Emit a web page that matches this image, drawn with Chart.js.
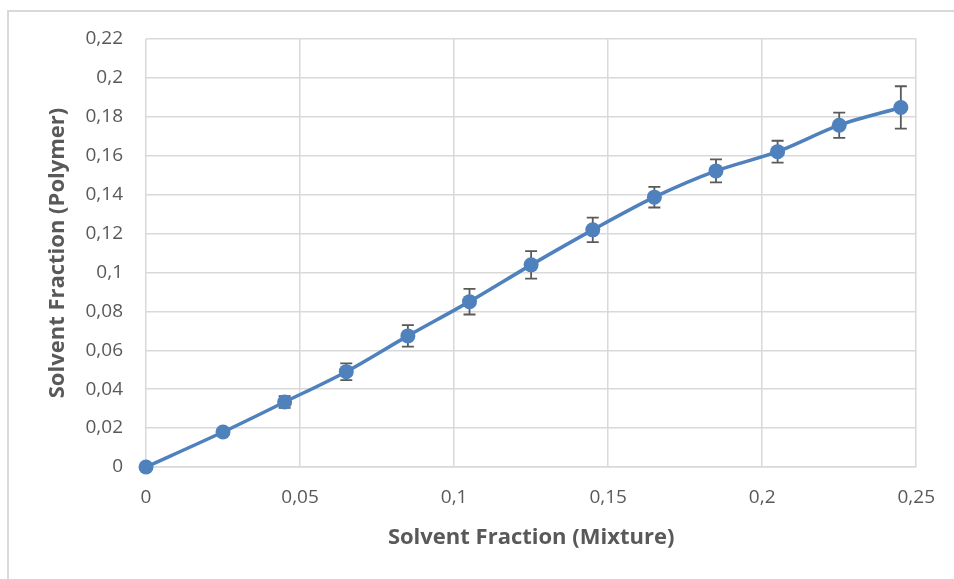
<!DOCTYPE html>
<html>
<head>
<meta charset="utf-8">
<script src="https://cdn.jsdelivr.net/npm/chart.js@4/dist/chart.umd.min.js"></script>
<style>
  html, body { margin: 0; padding: 0; background: #fff; }
  #wrap { position: relative; width: 954px; height: 579px; }
  #frame { position: absolute; left: 7px; top: 10px; right: 0; bottom: 0;
           border-left: 2px solid #d9d9d9; border-top: 2px solid #d9d9d9; pointer-events: none; }
</style>
</head>
<body>
<div id="wrap">
  <canvas id="chart" width="954" height="579"></canvas>
  <div id="frame"></div>
</div>
<script>
// data
const mixtureFraction = [0, 0.025, 0.045, 0.065, 0.085, 0.105, 0.125, 0.145, 0.165, 0.185, 0.205, 0.225, 0.245];
const polymerFraction = [0, 0.018, 0.0334, 0.049, 0.0674, 0.085, 0.1039, 0.1219, 0.1387, 0.1522, 0.1621, 0.1757, 0.1848];
const polymerError    = [0, 0, 0.003, 0.0043, 0.0055, 0.0066, 0.0071, 0.0063, 0.0053, 0.0059, 0.0056, 0.0065, 0.0109];

const xTitle = 'Solvent Fraction (Mixture)';
const yTitle = 'Solvent Fraction (Polymer)';

const FONT = '"Open Sans", Lato, sans-serif';
const LINE_BLUE = '#4f81bd';
const TEXT_GREY = '#595959';
const GRID_GREY = '#d9d9d9';

// comma as decimal separator, like the original
const commaFmt = (v) => String(Number(v.toFixed(3))).replace('.', ',');

// error bars are drawn behind the markers, like Excel does
const errorBars = {
  id: 'errorBars',
  beforeDatasetsDraw(chart) {
    const { ctx, scales: { x, y } } = chart;
    ctx.save();
    ctx.strokeStyle = '#5a5a5a';
    ctx.lineWidth = 1.8;
    const cap = 6;
    mixtureFraction.forEach((mx, i) => {
      const err = polymerError[i];
      if (!err) return;
      const px = x.getPixelForValue(mx);
      const top = y.getPixelForValue(polymerFraction[i] + err);
      const bot = y.getPixelForValue(polymerFraction[i] - err);
      ctx.beginPath();
      ctx.moveTo(px, top); ctx.lineTo(px, bot);
      ctx.moveTo(px - cap, top); ctx.lineTo(px + cap, top);
      ctx.moveTo(px - cap, bot); ctx.lineTo(px + cap, bot);
      ctx.stroke();
    });
    ctx.restore();
  }
};

new Chart(document.getElementById('chart'), {
  type: 'line',
  data: {
    datasets: [{
      data: mixtureFraction.map((mx, i) => ({ x: mx, y: polymerFraction[i] })),
      borderColor: LINE_BLUE,
      backgroundColor: LINE_BLUE,
      borderWidth: 3.5,
      pointRadius: 7.5,
      pointBorderWidth: 0,
      pointBackgroundColor: LINE_BLUE,
      tension: 0.3,
      clip: false
    }]
  },
  options: {
    responsive: false,
    animation: false,
    layout: { padding: { left: 0, top: 39, right: 37, bottom: 0 } },
    plugins: { legend: { display: false }, tooltip: { enabled: false } },
    scales: {
      x: {
        type: 'linear',
        min: 0, max: 0.25,
        ticks: {
          stepSize: 0.05, padding: 19, color: TEXT_GREY,
          font: { family: FONT, size: 19 },
          callback: (v) => commaFmt(v), maxRotation: 0
        },
        grid: { color: GRID_GREY, lineWidth: 1.5, drawTicks: false },
        border: { color: GRID_GREY, width: 1.5 },
        title: {
          display: true, text: xTitle, color: TEXT_GREY,
          font: { family: FONT, size: 22, weight: 'bold' },
          padding: { top: 0, bottom: 28 }
        },
        afterFit: (s) => { s.height = 112; }
      },
      y: {
        min: 0, max: 0.22,
        ticks: {
          stepSize: 0.02, padding: 23, color: TEXT_GREY,
          font: { family: FONT, size: 19 },
          callback: (v) => commaFmt(v)
        },
        grid: { color: GRID_GREY, lineWidth: 1.5, drawTicks: false },
        border: { display: false },
        title: {
          display: true, text: yTitle, color: TEXT_GREY,
          font: { family: FONT, size: 22, weight: 'bold' },
          padding: { top: 45, bottom: 0 }
        },
        afterFit: (s) => { s.width = 146; }
      }
    }
  },
  plugins: [errorBars]
});
</script>
</body>
</html>
